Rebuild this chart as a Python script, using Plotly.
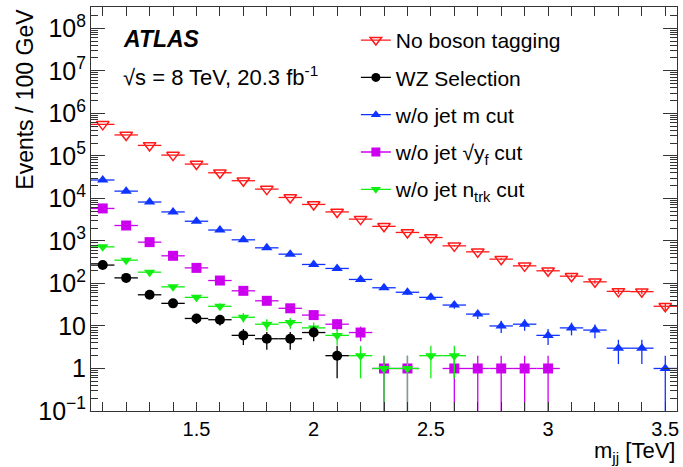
import numpy as np
import plotly.graph_objects as go

# bin centres [TeV]
mjj_all = [1.1, 1.2, 1.3, 1.4, 1.5, 1.6, 1.7, 1.8, 1.9, 2.0, 2.1, 2.2, 2.3,
           2.4, 2.5, 2.6, 2.7, 2.8, 2.9, 3.0, 3.1, 3.2, 3.3, 3.4, 3.5]

no_tag = [5.5e5, 3.1e5, 1.76e5, 1.04e5, 6.4e4, 4.0e4, 2.6e4, 1.65e4, 1.05e4,
          7.2e3, 4.8e3, 3.25e3, 2.2e3, 1.58e3, 1.2e3, 765, 553, 372, 259,
          198, 148, 109, 65, 64, 29]

no_mass = [2.7e4, 1.48e4, 8.2e3, 4.8e3, 2.9e3, 1.8e3, 1.06e3, 687, 488, 279,
           225, 124, 79, 62, 47, 31, 19, 10, 11, 6, 9, 8, 3, 3, 1]

mjj_yf = [1.1, 1.2, 1.3, 1.4, 1.5, 1.6, 1.7, 1.8, 1.9, 2.0, 2.1, 2.2, 2.3,
          2.4, 2.6, 2.7, 2.8, 2.9, 3.0]
no_yf = [5.8e3, 2.3e3, 935, 446, 232, 117, 67, 39, 26, 18, 11, 7, 1,
         1, 1, 1, 1, 1, 1]

mjj_trk = [1.1, 1.2, 1.3, 1.4, 1.5, 1.6, 1.7, 1.8, 1.9, 2.0, 2.1, 2.2, 2.3,
           2.4, 2.5, 2.6]
no_trk = [724, 352, 184, 83, 47, 29, 16, 11, 12, 9, 6, 2, 1, 1, 2, 2]

mjj_wz = [1.1, 1.2, 1.3, 1.4, 1.5, 1.6, 1.7, 1.8, 1.9, 2.0, 2.1]
wz_sel = [270, 135, 54, 34, 15, 14, 6, 5, 5, 7, 2]

bin_half_width = 0.05

FONT = "Liberation Sans, Arial, Helvetica, sans-serif"
AXC = "#333333"

series = [
    # name, x, y, colour, symbol, legendrank
    ("No boson tagging", mjj_all, no_tag, "#ff1a1a", "triangle-down-open", 1),
    ("w/o jet m cut", mjj_all, no_mass, "#1034ff", "triangle-up", 3),
    ("w/o jet \u221ay<sub>f</sub> cut", mjj_yf, no_yf, "#cc00ee", "square", 4),
    ("w/o jet n<sub>trk</sub> cut", mjj_trk, no_trk, "#11ee11", "triangle-down", 5),
    ("WZ Selection", mjj_wz, wz_sel, "#000000", "circle", 2),
]

fig = go.Figure()
for name, xs, ys, col, sym, rank in series:
    ys_arr = np.array(ys, dtype=float)
    err = np.sqrt(ys_arr)
    fig.add_trace(go.Scatter(
        x=xs, y=ys, mode="markers", showlegend=False,
        marker=dict(symbol=sym, size=11 if "open" in sym else 10, color=col,
                    line=dict(color=col, width=1.5 if "open" in sym else 0)),
        error_x=dict(type="constant", value=bin_half_width, color=col,
                     thickness=1.3, width=0),
        error_y=dict(type="data", array=err, color=col, thickness=1.3, width=0),
    ))
    # legend proxy
    fig.add_trace(go.Scatter(
        x=[None], y=[None], mode="lines+markers", name=name,
        legendrank=rank, legendgroup=name,
        line=dict(color=col, width=1.3),
        marker=dict(symbol=sym, size=10 if "open" in sym else 9, color=col,
                    line=dict(color=col, width=1.5 if "open" in sym else 0)),
    ))

# transparent copy of one series that carries the labelled major-tick axis
fig.add_trace(go.Scatter(x=mjj_all, y=no_tag, yaxis="y2", showlegend=False,
                         hoverinfo="skip", mode="markers",
                         marker=dict(opacity=0, size=1)))

# minor tick positions for the log axis (2..9 x 10^n)
minor_vals = [m * 10.0 ** e for e in range(-1, 9) for m in range(2, 10)]

fig.update_layout(
    width=683, height=467,
    margin=dict(l=91, r=4, t=7, b=56),
    paper_bgcolor="white", plot_bgcolor="white",
    font=dict(family=FONT, size=20, color="black"),
    showlegend=True,
    legend=dict(x=0.452, y=0.968, xanchor="left", yanchor="top",
                bgcolor="rgba(0,0,0,0)", font=dict(size=21),
                tracegroupgap=7, itemwidth=30),
    xaxis=dict(
        range=[1.05, 3.55], tickmode="linear", tick0=0, dtick=0.5,
        ticks="inside", ticklen=9, tickwidth=1, tickcolor=AXC,
        showline=True, linecolor=AXC, linewidth=1, mirror="allticks",
        showgrid=False, zeroline=False, tickfont=dict(size=20),
        minor=dict(tickmode="linear", tick0=0, dtick=0.1, ticks="inside",
                   ticklen=5, tickcolor=AXC, showgrid=False),
    ),
    yaxis=dict(
        type="log", range=[-1, 8.5], tickmode="array", tickvals=minor_vals,
        showticklabels=False,
        ticks="inside", ticklen=7, tickwidth=1, tickcolor=AXC,
        showline=True, linecolor=AXC, linewidth=1, mirror="allticks",
        showgrid=False, zeroline=False,
    ),
    yaxis2=dict(
        type="log", range=[-1, 8.5], overlaying="y", anchor="x", side="left",
        tickmode="linear", tick0=0, dtick=1, exponentformat="power",
        ticks="inside", ticklen=14, tickwidth=1, tickcolor=AXC,
        showline=True, linecolor=AXC, linewidth=1, mirror="allticks",
        showgrid=False, zeroline=False, tickfont=dict(size=20),
    ),
)

fig.add_annotation(text="Events / 100 GeV", xref="paper", yref="paper",
                   x=-0.114, y=1.0, xanchor="center", yanchor="top",
                   textangle=-90, showarrow=False, font=dict(size=23))
fig.add_annotation(text="m<sub>jj</sub> [TeV]", xref="paper", yref="paper",
                   x=1.0, y=-0.062, xanchor="right", yanchor="top",
                   showarrow=False, font=dict(size=22))
fig.add_annotation(text="<b><i>ATLAS</i></b>", xref="paper", yref="paper",
                   x=0.051, y=0.921, xanchor="left", yanchor="middle",
                   showarrow=False, font=dict(size=23))
fig.add_annotation(text="\u221as = 8 TeV, 20.3 fb<sup>-1</sup>", xref="paper",
                   yref="paper", x=0.051, y=0.829, xanchor="left",
                   yanchor="middle", showarrow=False, font=dict(size=22))

fig.write_html("out.html",
               config={"displayModeBar": False},
               post_script="document.body.style.margin='0';"
                           "document.body.style.overflow='hidden';")
